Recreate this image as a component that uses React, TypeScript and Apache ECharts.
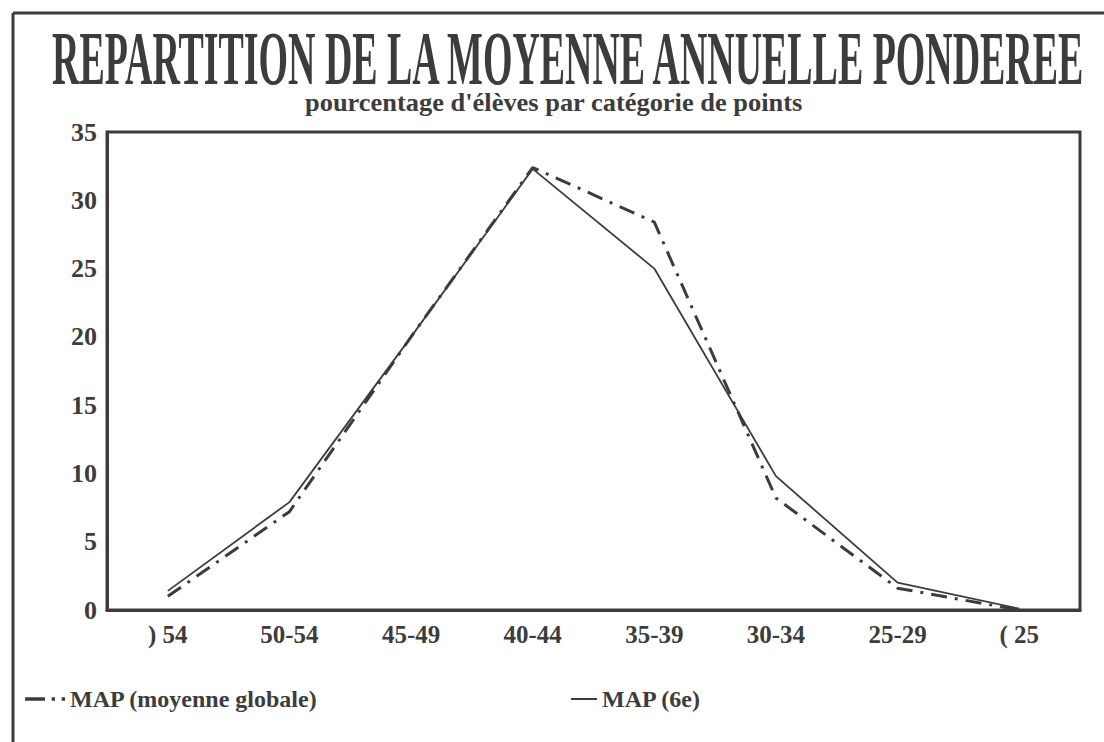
import React, { useEffect, useRef } from "react";
import * as echarts from "echarts";

const categories = [") 54", "50-54", "45-49", "40-44", "35-39", "30-34", "25-29", "( 25"];
const moyenneGlobale = [1.0, 7.2, 20.0, 32.4, 28.4, 8.2, 1.6, 0.0];
const sixieme = [1.4, 7.9, 20.0, 32.3, 25.0, 9.8, 2.0, 0.1];
const yTicks = { min: 0, max: 35, interval: 5 };
const titleText = "REPARTITION DE LA MOYENNE ANNUELLE PONDEREE";
const subtitleText = "pourcentage d'élèves par catégorie de points";
const seriesNames = ["MAP (moyenne globale)", "MAP (6e)"];

const FONT = "'Liberation Serif', 'DejaVu Serif', serif";
const INK = "#3c3c3c";

function measure(text: string, font: string): number {
  const c = document.createElement("canvas");
  const ctx = c.getContext("2d");
  if (!ctx) return text.length * 10;
  ctx.font = font;
  return ctx.measureText(text).width;
}

export default function App() {
  const ref = useRef<HTMLDivElement>(null);
  useEffect(() => {
    if (!ref.current) return;
    const chart = echarts.init(ref.current, undefined, { renderer: "svg" });
    const titleSize = 76;
    const titleW = measure(titleText, `bold ${titleSize}px ${FONT}`);
    const titleScale = 1036 / titleW;
    const subSize = 25;
    const subW = measure(subtitleText, `bold ${subSize}px ${FONT}`);
    const subScale = 498 / subW;

    chart.setOption({
      animation: false,
      backgroundColor: "#ffffff",
      grid: {
        left: 107,
        right: 24,
        top: 132,
        bottom: 132,
        show: true,
        borderColor: INK,
        borderWidth: 3,
        backgroundColor: "transparent",
      },
      xAxis: {
        type: "category",
        data: categories,
        boundaryGap: true,
        axisLine: { show: true, lineStyle: { color: INK, width: 3 } },
        axisTick: { show: false },
        axisLabel: {
          color: INK,
          fontFamily: FONT,
          fontWeight: "bold",
          fontSize: 25,
          margin: 12,
        },
        splitLine: { show: false },
      },
      yAxis: {
        type: "value",
        min: yTicks.min,
        max: yTicks.max,
        interval: yTicks.interval,
        axisLine: { show: true, lineStyle: { color: INK, width: 3 } },
        axisTick: { show: false },
        axisLabel: {
          color: INK,
          fontFamily: FONT,
          fontWeight: "bold",
          fontSize: 26,
          margin: 10,
        },
        splitLine: { show: false },
      },
      legend: [
        {
          data: [seriesNames[0]],
          left: 20,
          top: 682,
          itemWidth: 40,
          itemHeight: 14,
          icon: "path://M0,6 L18,6 L18,9 L0,9 Z M24,6 L27,6 L27,9 L24,9 Z M33,6 L36,6 L36,9 L33,9 Z",
          textStyle: { color: INK, fontFamily: FONT, fontWeight: "bold", fontSize: 24 },
          itemStyle: { color: INK, borderWidth: 0 },
          selectedMode: false,
        },
        {
          data: [seriesNames[1]],
          left: 566,
          top: 682,
          itemWidth: 26,
          itemHeight: 14,
          icon: "path://M0,6 L26,6 L26,8 L0,8 Z",
          textStyle: { color: INK, fontFamily: FONT, fontWeight: "bold", fontSize: 24 },
          itemStyle: { color: INK, borderWidth: 0 },
          selectedMode: false,
        },
      ],
      series: [
        {
          name: seriesNames[0],
          type: "line",
          data: moyenneGlobale,
          symbol: "none",
          lineStyle: { color: INK, width: 3, type: [16, 8, 3, 8] },
          itemStyle: { color: INK },
          z: 3,
        },
        {
          name: seriesNames[1],
          type: "line",
          data: sixieme,
          symbol: "none",
          lineStyle: { color: INK, width: 1.8, type: "solid" },
          itemStyle: { color: INK },
          z: 2,
        },
      ],
      graphic: [
        {
          type: "line",
          shape: { x1: 13, y1: 13, x2: 1104, y2: 13 },
          style: { stroke: INK, lineWidth: 3 },
        },
        {
          type: "line",
          shape: { x1: 13, y1: 13, x2: 13, y2: 742 },
          style: { stroke: INK, lineWidth: 3 },
        },
        {
          type: "text",
          x: 52,
          y: 20,
          scaleX: titleScale,
          style: {
            text: titleText,
            font: `bold ${titleSize}px ${FONT}`,
            fill: INK,
            textAlign: "left",
            textVerticalAlign: "top",
          },
        },
        {
          type: "text",
          x: 305,
          y: 90,
          scaleX: subScale,
          style: {
            text: subtitleText,
            font: `bold ${subSize}px ${FONT}`,
            fill: INK,
            textAlign: "left",
            textVerticalAlign: "top",
          },
        },
      ],
    });
    return () => chart.dispose();
  }, []);
  return (
    <div
      ref={ref}
      style={{ position: "absolute", left: 0, top: 0, width: 1104, height: 742, background: "#fff" }}
    />
  );
}
